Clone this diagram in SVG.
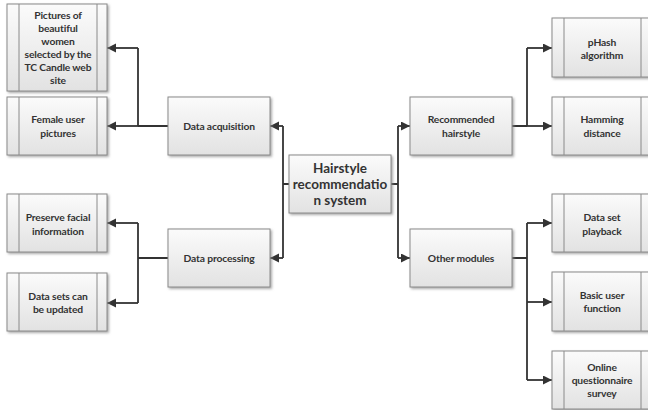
<svg xmlns="http://www.w3.org/2000/svg" width="648" height="410" viewBox="0 0 648 410">
<defs>
<linearGradient id="g" x1="0" y1="0" x2="0" y2="1">
<stop offset="0" stop-color="#fbfbfb"/>
<stop offset="1" stop-color="#e2e2e2"/>
</linearGradient>
<filter id="sh" x="-10%" y="-10%" width="130%" height="130%">
<feDropShadow dx="1.5" dy="1.5" stdDeviation="1" flood-color="#888" flood-opacity="0.7"/>
</filter>
<marker id="ah" markerUnits="userSpaceOnUse" markerWidth="10" markerHeight="10" refX="9" refY="4.5" orient="auto">
<path d="M0,0 L9,4.5 L0,9 z" fill="#333"/>
</marker>
</defs>
<style>
.box{fill:url(#g);stroke:#8a8a8a;stroke-width:1;filter:url(#sh)}
.div{stroke:#8a8a8a;stroke-width:1;fill:none}
.t{font-family:Lato,"Liberation Sans",sans-serif;font-weight:bold;font-size:10.3px;letter-spacing:-0.15px;fill:#333;text-anchor:middle}
.tc{font-family:Lato,"Liberation Sans",sans-serif;font-weight:bold;font-size:13.5px;fill:#333;text-anchor:middle}
.c{stroke:#333;stroke-width:1.8;fill:none}
.a{stroke:#333;stroke-width:1.8;fill:none;marker-end:url(#ah)}
</style>
<g id="connectors">
<path class="c" d="M289,184 H283 M283,126 V258"/>
<path class="a" d="M283,126 H270"/>
<path class="a" d="M283,258 H270"/>
<path class="c" d="M391,184 H398 M398,126 V258"/>
<path class="a" d="M398,126 H410"/>
<path class="a" d="M398,258 H410"/>
<path class="c" d="M168,126 H138 M138,48 V126"/>
<path class="a" d="M138,48 H107"/>
<path class="a" d="M138,126 H107"/>
<path class="c" d="M168,258 H138 M138,223 V303"/>
<path class="a" d="M138,223 H107"/>
<path class="a" d="M138,303 H107"/>
<path class="c" d="M512,126 H527 M527,48 V126"/>
<path class="a" d="M527,48 H552"/>
<path class="a" d="M527,126 H552"/>
<path class="c" d="M512,258 H527 M527,223 V380"/>
<path class="a" d="M527,223 H552"/>
<path class="a" d="M527,302 H552"/>
<path class="a" d="M527,380 H552"/>
</g>
<g id="center">
<rect class="box" x="289" y="155" width="102" height="58"/>
<text class="tc" x="340" y="173">Hairstyle</text>
<text class="tc" x="340" y="189">recommendatio</text>
<text class="tc" x="340" y="205">n system</text>
</g>
<g id="data-acquisition">
<rect class="box" x="168" y="97" width="102" height="58"/>
<text class="t" x="219" y="130">Data acquisition</text>
</g>
<g id="data-processing">
<rect class="box" x="168" y="229" width="102" height="58"/>
<text class="t" x="219" y="262">Data processing</text>
</g>
<g id="recommended-hairstyle">
<rect class="box" x="410" y="97" width="102" height="58"/>
<text class="t" x="461" y="123">Recommended</text>
<text class="t" x="461" y="137">hairstyle</text>
</g>
<g id="other-modules">
<rect class="box" x="410" y="229" width="102" height="58"/>
<text class="t" x="461" y="262">Other modules</text>
</g>
<g id="pictures-beautiful">
<rect class="box" x="7" y="4" width="100" height="87"/>
<path class="div" d="M19,4 V91 M97,4 V91"/>
<text class="t" x="58" y="19">Pictures of</text>
<text class="t" x="58" y="32">beautiful</text>
<text class="t" x="58" y="45">women</text>
<text class="t" x="58" y="58">selected by the</text>
<text class="t" x="58" y="71">TC Candle web</text>
<text class="t" x="58" y="84">site</text>
</g>
<g id="female-user">
<rect class="box" x="7" y="97" width="100" height="58"/>
<path class="div" d="M19,97 V155 M97,97 V155"/>
<text class="t" x="58" y="123">Female user</text>
<text class="t" x="58" y="137">pictures</text>
</g>
<g id="preserve-facial">
<rect class="box" x="7" y="194" width="100" height="58"/>
<path class="div" d="M19,194 V252 M97,194 V252"/>
<text class="t" x="58" y="221">Preserve facial</text>
<text class="t" x="58" y="235">information</text>
</g>
<g id="data-sets-updated">
<rect class="box" x="7" y="273" width="100" height="58"/>
<path class="div" d="M19,273 V331 M97,273 V331"/>
<text class="t" x="58" y="300">Data sets can</text>
<text class="t" x="58" y="313">be updated</text>
</g>
<g id="phash">
<rect class="box" x="552" y="18" width="100" height="59"/>
<path class="div" d="M564,18 V77 M641,18 V77"/>
<text class="t" x="602" y="46">pHash</text>
<text class="t" x="602" y="59">algorithm</text>
</g>
<g id="hamming">
<rect class="box" x="552" y="97" width="100" height="58"/>
<path class="div" d="M564,97 V155 M641,97 V155"/>
<text class="t" x="602" y="123">Hamming</text>
<text class="t" x="602" y="137">distance</text>
</g>
<g id="data-set-playback">
<rect class="box" x="552" y="194" width="100" height="58"/>
<path class="div" d="M564,194 V252 M641,194 V252"/>
<text class="t" x="602" y="221">Data set</text>
<text class="t" x="602" y="235">playback</text>
</g>
<g id="basic-user">
<rect class="box" x="552" y="272" width="100" height="59"/>
<path class="div" d="M564,272 V331 M641,272 V331"/>
<text class="t" x="602" y="299">Basic user</text>
<text class="t" x="602" y="312">function</text>
</g>
<g id="online-survey">
<rect class="box" x="552" y="351" width="100" height="58"/>
<path class="div" d="M564,351 V409 M641,351 V409"/>
<text class="t" x="602" y="371">Online</text>
<text class="t" x="602" y="384">questionnaire</text>
<text class="t" x="602" y="397">survey</text>
</g>
</svg>
